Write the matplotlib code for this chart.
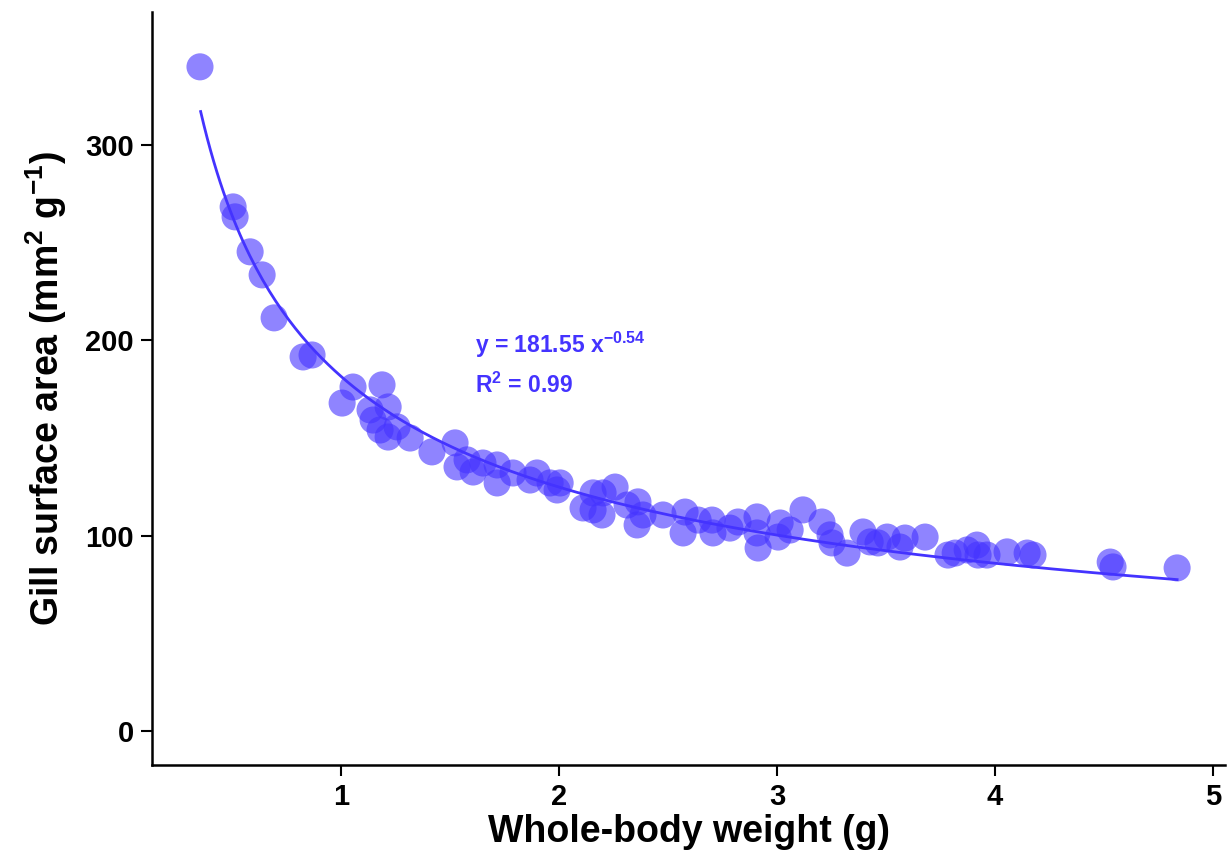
import numpy as np
import matplotlib
matplotlib.use("Agg")
import matplotlib.pyplot as plt

plt.rcParams['font.family'] = ['Liberation Sans', 'DejaVu Sans']
plt.rcParams['mathtext.fontset'] = 'custom'
plt.rcParams['mathtext.rm'] = 'Liberation Sans'
plt.rcParams['mathtext.default'] = 'regular'

# whole-body weight (g) and gill surface area (mm2 g-1)
weight = [0.353, 0.505, 0.514, 0.583, 0.638, 0.693, 0.826, 0.867, 1.005, 1.055,
          1.188, 1.133, 1.216, 1.147, 1.179, 1.257, 1.216, 1.317, 1.417, 1.523,
          1.532, 1.578, 1.606, 1.651, 1.716, 1.716, 1.789, 1.867, 1.899, 1.959,
          2.005, 1.991, 2.110, 2.156, 2.156, 2.202, 2.257, 2.197, 2.312, 2.362,
          2.358, 2.385, 2.477, 2.578, 2.569, 2.638, 2.702, 2.706, 2.784, 2.821,
          2.908, 2.913, 2.908, 3.014, 3.005, 3.060, 3.119, 3.206, 3.243, 3.252,
          3.321, 3.394, 3.427, 3.463, 3.505, 3.564, 3.587, 3.679, 3.784, 3.817,
          3.872, 3.917, 3.922, 3.963, 4.055, 4.147, 4.174, 4.528, 4.541, 4.835]
area = [340.0, 268.3, 263.2, 245.3, 233.5, 211.5, 191.5, 192.5, 167.9, 176.1,
        177.2, 164.4, 165.9, 159.2, 154.1, 155.7, 150.5, 150.0, 142.9, 147.5,
        135.2, 138.8, 132.6, 137.2, 136.2, 127.0, 132.1, 128.5, 132.1, 127.0,
        127.0, 123.4, 114.2, 113.2, 121.9, 121.9, 124.9, 110.6, 115.7, 117.3,
        105.5, 110.6, 110.6, 112.1, 101.4, 108.0, 108.0, 101.4, 103.9, 107.0,
        109.6, 93.7, 101.4, 106.5, 99.3, 102.9, 113.2, 107.0, 100.4, 96.3,
        91.1, 101.9, 96.8, 96.3, 99.3, 94.2, 98.8, 99.3, 90.1, 91.1,
        92.7, 95.2, 90.1, 90.1, 91.7, 91.1, 90.1, 86.5, 84.0, 83.5]

# power-law fit shown on the chart
coef_a = 181.55
coef_b = -0.54
r2 = 0.99

blue = '#4433ff'

fig = plt.figure(figsize=(12.3, 8.67), dpi=100)
ax = fig.add_axes([0.1236, 0.1176, 0.8724, 0.8684])

ax.scatter(weight, area, s=380, color=blue, alpha=0.6, edgecolors='none', zorder=2)

xf = np.linspace(0.356, max(weight), 300)
ax.plot(xf, coef_a * xf ** coef_b, color=blue, lw=2.0, zorder=3)

ax.text(1.615, 197.6, 'y = %.2f x$^{-%.2f}$' % (coef_a, -coef_b),
        color=blue, fontsize=16.5, fontweight='bold', va='center')
ax.text(1.615, 177.0, 'R$^2$ = %.2f' % r2,
        color=blue, fontsize=16.5, fontweight='bold', va='center')

ax.set_xlim(0.133, 5.055)
ax.set_ylim(-17.4, 368)
ax.set_xticks([1, 2, 3, 4, 5])
ax.set_yticks([0, 100, 200, 300])
ax.spines['top'].set_visible(False)
ax.spines['right'].set_visible(False)
for s in ['left', 'bottom']:
    ax.spines[s].set_linewidth(1.8)
ax.tick_params(length=8, width=1.5, labelsize=21, pad=5)
for lab in ax.get_xticklabels() + ax.get_yticklabels():
    lab.set_fontweight('bold')

ax.set_xlabel('Whole-body weight (g)', fontsize=27, fontweight='bold', labelpad=2)
ax.set_ylabel('Gill surface area (mm$^2$ g$^{-1}$)', fontsize=27,
              fontweight='bold', labelpad=12)

fig.savefig('out.png', dpi=100)
